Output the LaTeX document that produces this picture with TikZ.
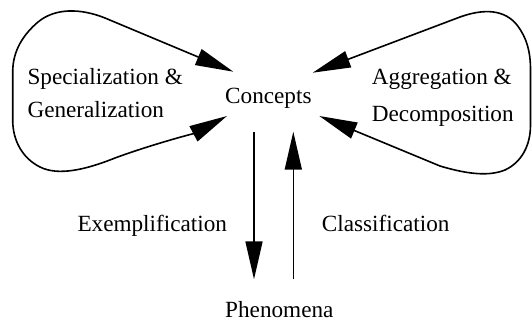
\documentclass[tikz,border=0pt]{standalone}
\usepackage{fontspec}
\setmainfont{Liberation Serif}
\usetikzlibrary{arrows.meta}

\tikzset{
  lbl/.style={inner sep=0pt, anchor=base west, font=\fontsize{23.2}{28}\selectfont},
  conn/.style={line width=1.6pt, line join=round,
    -{Triangle[length=38pt,width=17pt]}},
  loopconn/.style={line width=1.6pt, line join=round,
    {Triangle[length=38pt,width=17pt]}-{Triangle[length=38pt,width=17pt]}}
}

\begin{document}
\begin{tikzpicture}[x=1pt,y=-1pt]
  \useasboundingbox (0,0) rectangle (532,322);

  % labels
  \node[lbl] (spec)     at (27.3,84.3)  {Specialization \&};
  \node[lbl] (gen)      at (27.3,117.7) {Generalization};
  \node[lbl] (concepts) at (225,103.3)  {Concepts};
  \node[lbl] (agg)      at (371.7,84)   {Aggregation \&};
  \node[lbl] (dec)      at (371.7,121)  {Decomposition};
  \node[lbl] (exemp)    at (77.3,231)   {Exemplification};
  \node[lbl] (class)    at (321.7,231)  {Classification};
  \node[lbl] (phen)     at (225,317)    {Phenomena};

  % ends of the connectors around Concepts and Phenomena
  \coordinate (cUL) at (233.3,71.7);
  \coordinate (cLL) at (227,116);
  \coordinate (cUR) at (312.7,72.7);
  \coordinate (cLR) at (319.3,116);
  \coordinate (dTop) at (254,132);
  \coordinate (dBot) at (254,279.3);
  \coordinate (uTop) at (293.3,131.7);
  \coordinate (uBot) at (293.3,279.3);

  % Exemplification / Classification
  \draw[conn] (dTop) -- (dBot);
  \draw[conn] (uBot) -- (uTop);

  % Specialization & Generalization loop
  \draw[loopconn] (cUL) -- (105,18)
    .. controls (80,8) and (55,8) .. (38,22)
    .. controls (24,34) and (12.7,50) .. (12.7,72)
    -- (12.7,120)
    .. controls (12.7,140) and (22,158) .. (40,167)
    .. controls (58,176) and (85,170) .. (115,158)
    .. controls (150,145) and (195,133) .. (cLL);

  % Aggregation & Decomposition loop
  \draw[loopconn] (cUR) -- (460,17)
    .. controls (485,8) and (505,10) .. (517,25)
    .. controls (527,38) and (530.5,52) .. (530.5,70)
    -- (530.5,125)
    .. controls (530.5,145) and (522,162) .. (505,170)
    .. controls (490,176) and (470,175) .. (440,166)
    -- (cLR);
\end{tikzpicture}
\end{document}
